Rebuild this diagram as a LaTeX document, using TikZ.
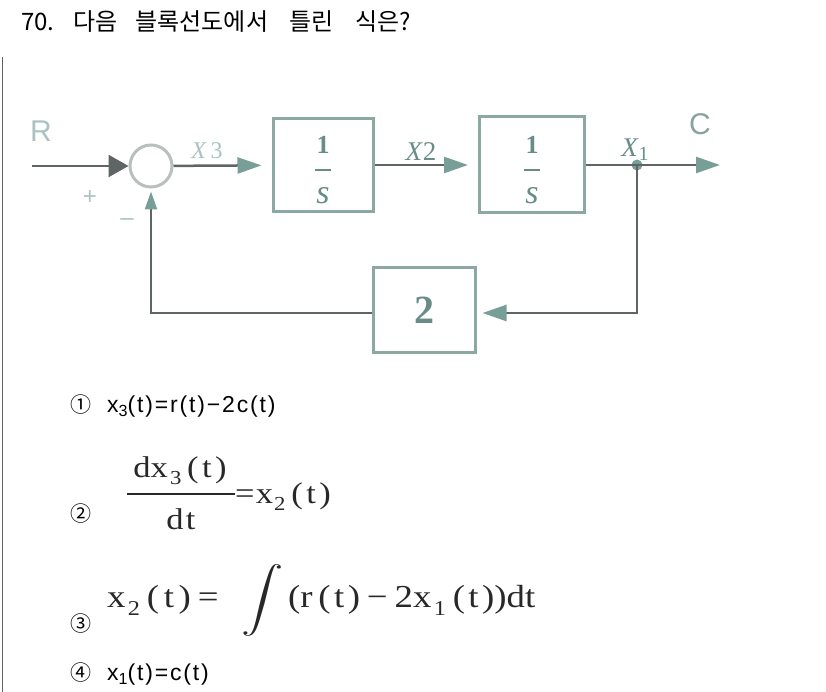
\documentclass[tikz,border=0pt]{standalone}
\usepackage{amsmath}
\usepackage{graphicx}
\usepackage{fontspec}
\setmainfont{Liberation Serif}
\newfontfamily\kr{Noto Sans CJK KR}
\newfontfamily\lsans{Liberation Sans}
\newfontfamily\eqsans[LetterSpace=8]{Liberation Sans}
\newcommand\sbs[1]{\raisebox{-0.26em}{\scalebox{0.66}{#1}}}
\newcommand\ssb[1]{\raisebox{-0.18em}{\scalebox{0.7}{#1}}}
\newcommand\wide[1]{\scalebox{1.15}[1]{#1}}
\usetikzlibrary{arrows.meta}
\definecolor{boxcol}{RGB}{140,168,163}
\definecolor{linecol}{RGB}{95,100,100}
\definecolor{tipcol}{RGB}{120,158,152}
\definecolor{labcol}{RGB}{170,195,193}
\definecolor{numcol}{RGB}{105,140,135}
\definecolor{sumcol}{RGB}{185,190,190}
\definecolor{eqcol}{RGB}{40,40,40}
\begin{document}
\begin{tikzpicture}[x=1pt,y=-1pt,
  blk/.style={draw=boxcol,line width=3pt,rectangle,inner sep=0pt},
  sig/.style={draw=linecol,line width=2.5pt},
  tipar/.style={-{Triangle[length=24pt,width=16pt,color=tipcol]}},
  numf/.style={text=numcol,inner sep=0pt},
  lab/.style={inner sep=0pt},
  circ/.style={anchor=base west,inner sep=0pt,font=\kr\fontsize{21}{24}\selectfont},
  eqs/.style={anchor=base west,inner sep=0pt,font=\eqsans\fontsize{23}{26}\selectfont},
  ser/.style={inner sep=0pt,text=eqcol,font=\fontsize{30}{34}\selectfont},
  serb/.style={inner sep=0pt,text=eqcol,font=\fontsize{32}{36}\selectfont}]
\useasboundingbox (0,0) rectangle (826,692);
\draw[linecol,line width=1.5pt] (2.5,57) -- (2.5,692);
\node[anchor=base west,inner sep=0pt,font=\kr\fontsize{24}{26}\selectfont] (title) at (21,31) {70.\hspace{19pt}다음\hspace{18pt}블록선도에서\hspace{21pt}틀린\hspace{22pt}식은?};
% diagram
\node[circle,draw=sumcol,line width=3pt,minimum size=42pt,inner sep=0pt] (sum) at (151,166) {};
\node[blk,minimum width=100pt,minimum height=93pt] (b1) at (323,165) {};
\node[blk,minimum width=105pt,minimum height=96pt] (b2) at (532,165) {};
\node[blk,minimum width=102pt,minimum height=85pt] (b3) at (424,310) {};
\node[numf,font=\fontsize{40}{40}\selectfont\bfseries] (g3) at (b3.center) {2};
\foreach \b in {b1,b2}{
  \node[numf,font=\fontsize{26}{26}\selectfont\bfseries] (\b one) at ([yshift=20pt]\b.center) {1};
  \draw[numcol,line width=2pt] ([xshift=-8pt,yshift=-5pt]\b.center) -- ([xshift=8pt,yshift=-5pt]\b.center);
  \node[numf,font=\fontsize{34}{34}\selectfont\itshape] (\b s) at ([yshift=-31pt]\b.center) {s};
}
\coordinate (rin) at (32,166);
\node[circle,fill=tipcol,inner sep=0pt,minimum size=11pt] (dot) at (637,165) {};
\coordinate (cout) at (720,165);
\coordinate (fbr) at (637,313);
\draw[sig,-{Triangle[length=20pt,width=22pt,color=linecol]}] (rin) -- (sum.west);
\draw[sig,tipar,shorten >=10pt] (sum) -- (b1);
\draw[sig,tipar,shorten >=10pt] (b1) -- (b2);
\draw[sig,tipar] (b2) -- (cout);
\draw[sig,tipar,shorten >=6pt] (dot.center) -- (fbr) -- (b3.east |- fbr);
\draw[sig,-{Triangle[length=18pt,width=12pt,color=tipcol]},shorten >=3pt] (b3.west |- fbr) -| (sum.south);
% labels
\node[lab,text=labcol,font=\lsans\fontsize{30}{30}\selectfont] (lR) at (41,131) {R};
\node[lab,text=numcol!80,font=\lsans\fontsize{30}{30}\selectfont] (lC) at (700,124) {C};
\node[lab,text=labcol,font=\lsans\fontsize{24}{24}\selectfont] (plus) at (90,198) {+};
\node[lab,text=labcol,font=\lsans\fontsize{24}{24}\selectfont] (minus) at (127,222) {–};
\node[lab,text=labcol,font=\fontsize{24}{24}\selectfont] (lx3) at (207,151) {\textit{X}\,3};
\node[lab,text=numcol,font=\fontsize{27}{27}\selectfont] (lx2) at (421,152) {\textit{X}2};
\node[lab,text=numcol,font=\fontsize{27}{27}\selectfont] (lx1) at (635,150) {\textit{X}\raisebox{-4pt}{\fontsize{20}{20}\selectfont 1}};
% equation 1
\node[circ] (c1) at (70,412) {①};
\node[eqs] (e1) at (107,412) {x\ssb{3}(t)=r(t)−2c(t)};
% equation 2
\node[circ] (c2) at (70,521) {②};
\node[ser,anchor=base] (num2) at (180,477) {\wide{dx\kern2pt\sbs{3}\kern5pt(\kern3pt t\kern3pt)}};
\coordinate (barL) at (127,494);
\coordinate (barR) at (235,494);
\draw[eqcol,line width=1.3pt] (barL) -- (barR);
\node[ser,anchor=base] (den2) at (181,529) {\wide{d\kern2pt t}};
\node[ser,anchor=base west] (rhs2) at (235,503) {\wide{=\kern1pt x\kern1pt\sbs{2}\kern5pt(\kern3pt t\kern3pt)}};
% equation 3
\node[circ] (c3) at (70,631) {③};
\node[serb,anchor=base west] (lhs3) at (107,607) {\wide{x\kern2pt\sbs{2}\kern6pt(\kern4pt t\kern4pt)\kern6pt=}};
\node[inner sep=0pt,text=eqcol,font=\fontsize{32}{36}\selectfont] (intg) at (263,600) {\scalebox{1.7}[1.3]{$\displaystyle\int$}};
\node[serb,anchor=base west] (rhs3) at (288,607) {\wide{(r\kern5pt(\kern3pt t\kern3pt)\kern6pt−\kern6pt2x\kern2pt\sbs{1}\kern6pt(\kern3pt t\kern3pt))dt}};
% equation 4
\node[circ] (c4) at (70,680) {④};
\node[eqs] (e4) at (107,680) {x\ssb{1}(t)=c(t)};
\end{tikzpicture}
\end{document}
